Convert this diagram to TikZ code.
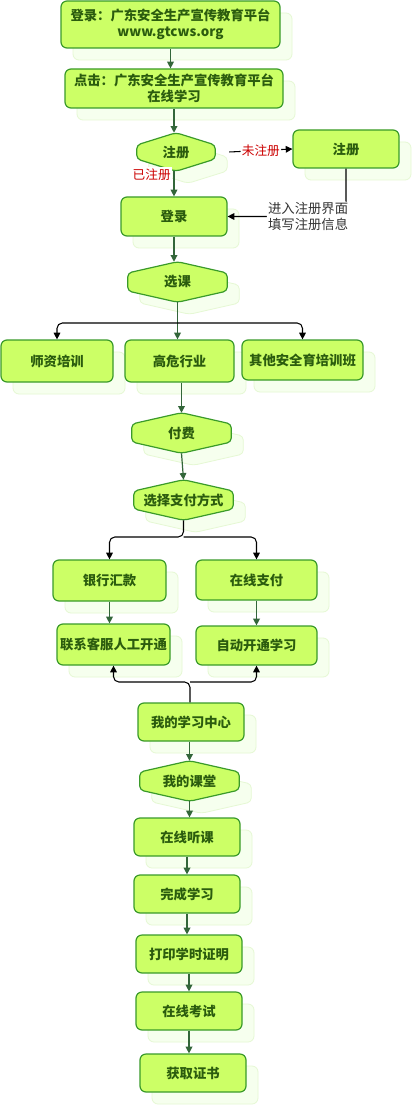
\documentclass[tikz,border=0pt]{standalone}
\usepackage{fontspec}
\setmainfont{Noto Sans CJK SC}
\usetikzlibrary{shadows,arrows.meta,backgrounds}
\definecolor{limefill}{HTML}{CCFF66}
\definecolor{boxedge}{HTML}{3A9A2A}
\definecolor{boxtext}{HTML}{2B5C0E}
\definecolor{flowgreen}{HTML}{33663A}
\definecolor{shadegreen}{HTML}{F6FFEE}
\definecolor{shadeedge}{HTML}{E6F8D4}
\definecolor{notered}{HTML}{CC0000}
\begin{document}
\begin{tikzpicture}[x=0.75pt, y=-0.75pt,
    softshadow/.style={drop shadow={shadow xshift=9pt, shadow yshift=-9pt,
      fill=shadegreen, draw=shadeedge, line width=0.6pt, opacity=1}},
    stepbox/.style={rectangle, rounded corners=4.5pt, draw=boxedge, line width=0.9pt,
      fill=limefill, text=boxtext, font=\bfseries\fontsize{10pt}{12pt}\selectfont,
      inner sep=0pt, minimum width=79.5pt, minimum height=28.5pt, align=center,
      softshadow},
    choice/.style={rectangle, text=boxtext, font=\bfseries\fontsize{10pt}{12pt}\selectfont,
      inner sep=0pt, minimum width=74.25pt, minimum height=30pt},
    hexa/.style={draw=boxedge, line width=0.9pt, fill=limefill, rounded corners=3pt,
      softshadow},
    flow/.style={-{Triangle[length=5pt,width=5pt]}, draw=flowgreen, line width=0.9pt},
    link/.style={-{Triangle[length=5pt,width=5pt]}, draw=black, line width=0.8pt,
      rounded corners=4pt},
    redlbl/.style={text=notered, font=\fontsize{9.5pt}{11pt}\selectfont, fill=white,
      inner sep=1pt},
    hint/.style={text=black!80, font=\fontsize{10pt}{12pt}\selectfont, fill=white,
      align=left, inner sep=1pt}
]
  \useasboundingbox (0,0) rectangle (411,1105);
  \node[stepbox, minimum width=164.25pt, minimum height=35.25pt] (portal) at (170.5,24.5)
    {登录：广东安全生产宣传教育平台\\www.gtcws.org};
  \node[stepbox, minimum width=163.5pt, minimum height=29.25pt] (enter) at (174,88.5)
    {点击：广东安全生产宣传教育平台\\在线学习};
  \node[choice, minimum width=58.5pt, minimum height=28.5pt] (regq) at (176,152) {注册};
  \node[stepbox] (signup) at (346,149) {注册};
  \node[stepbox, minimum height=29.25pt] (login) at (174,216.5) {登录};
  \node[choice] (pick) at (177.5,282) {选课};
  \node[stepbox, minimum width=84pt, minimum height=31.5pt] (teach) at (57,361) {师资培训};
  \node[stepbox, minimum width=81.75pt, minimum height=31.5pt] (risk) at (179.5,361) {高危行业};
  \node[stepbox, minimum width=90.75pt, minimum height=30pt] (other) at (302.5,360) {其他安全育培训班};
  \node[choice] (pay) at (181.5,433) {付费};
  \node[choice] (way) at (183.5,500) {选择支付方式};
  \node[stepbox, minimum width=84.75pt, minimum height=30.75pt] (bank) at (109.5,580.5) {银行汇款};
  \node[stepbox, minimum width=90.75pt, minimum height=30pt] (online) at (256.5,580) {在线支付};
  \node[stepbox, minimum width=84.75pt, minimum height=30.75pt] (contact) at (113.5,644.5) {联系客服人工开通};
  \node[stepbox, minimum width=90.75pt, minimum height=29.25pt] (auto) at (256.5,645.5) {自动开通学习};
  \node[stepbox] (center) at (191,722) {我的学习中心};
  \node[choice] (myclass) at (189.5,781) {我的课堂};
  \node[stepbox] (listen) at (187,837) {在线听课};
  \node[stepbox] (finish) at (187,894) {完成学习};
  \node[stepbox] (print) at (189,954) {打印学时证明};
  \node[stepbox] (exam) at (189,1011) {在线考试};
  \node[stepbox] (cert) at (193,1073) {获取证书};
  \begin{pgfonlayer}{background}
    \fill[white] (0,0) rectangle (411,1105);
    \foreach \n/\h in {regq/5.25pt, pick/6.75pt, pay/6.75pt, way/6.75pt, myclass/6.75pt}
      \draw[hexa] ([yshift=\h]\n.west) -- (\n.north) -- ([yshift=\h]\n.east)
        -- ([yshift=-\h]\n.east) -- (\n.south) -- ([yshift=-\h]\n.west) -- cycle;
  \end{pgfonlayer}
  \coordinate (coursesplit) at (178,323);
  \coordinate (paysplit) at (183.5,537);
  \coordinate (studysplit) at (190,682);
  \draw[flow] (portal.south) -- (portal.south |- enter.north);
  \draw[flow] (enter.south) -- (enter.south |- regq.north);
  \draw[flow] (regq.south -| login.north) -- node[redlbl, pos=0.12, left=1pt] {已注册} (login.north);
  \draw[link] ([xshift=10.5pt]regq.east) -- node[redlbl] {未注册} (signup.west);
  \draw[link] (signup.south) |- node[hint, pos=0.5, anchor=east, xshift=3pt]
    {进入注册界面\\填写注册信息} (login.east);
  \draw[flow] (login.south) -- (login.south |- pick.north);
  \draw[flow] (pick.south) -- (pick.south |- risk.north);
  \draw[link] (coursesplit) -| (teach.north);
  \draw[link] (coursesplit) -| (other.north);
  \draw[flow] (pay.north |- risk.south) -- (pay.north);
  \draw[flow] (pay.south) -- (way.north);
  \draw[link] (way.south) -- (paysplit) -| (bank.north);
  \draw[link] (paysplit) -| (online.north);
  \draw[flow] (bank.south) -- (bank.south |- contact.north);
  \draw[flow] (online.south) -- (auto.north);
  \draw[link] (center.north -| studysplit) -- (studysplit) -| (contact.south);
  \draw[link] (studysplit) -| (auto.south);
  \draw[flow] (center.south -| myclass.north) -- (myclass.north);
  \draw[flow] (myclass.south) -- (myclass.south |- listen.north);
  \draw[flow] (listen.south) -- (finish.north);
  \draw[flow] (finish.south) -- (print.north -| finish.south);
  \draw[flow] (print.south) -- (print.south |- exam.north);
  \draw[flow] (exam.south) -- (exam.south |- cert.north);
\end{tikzpicture}
\end{document}
